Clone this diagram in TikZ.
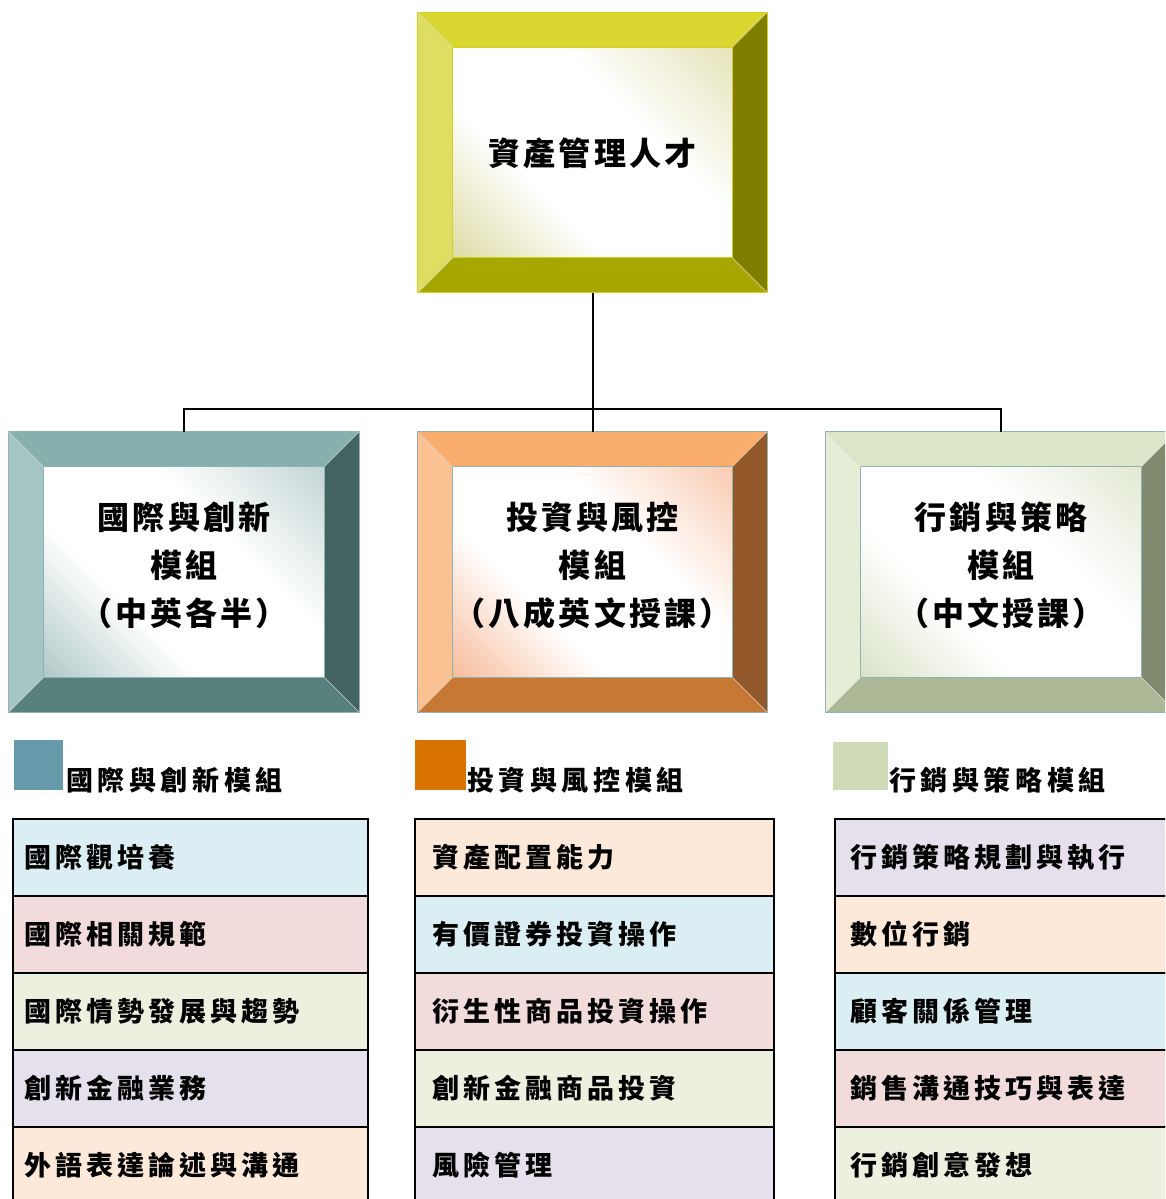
\documentclass[tikz,border=0pt]{standalone}
\usepackage{fontspec}
\setmainfont[LetterSpace=10]{Noto Sans CJK TC}
\newfontfamily\cellfont[LetterSpace=15]{Noto Sans CJK TC}
\newfontfamily\legfont[LetterSpace=17]{Noto Sans CJK TC}
\usetikzlibrary{calc}
\definecolor{yTop}{HTML}{D9D62F}
\definecolor{yLeft}{HTML}{E0DE62}
\definecolor{yRight}{HTML}{7F7E00}
\definecolor{yBot}{HTML}{A8A600}
\definecolor{yTint}{HTML}{CFCD80}
\definecolor{yLine}{HTML}{D2D020}
\definecolor{tTop}{HTML}{86AFAD}
\definecolor{tLeft}{HTML}{A4C5C4}
\definecolor{tRight}{HTML}{426360}
\definecolor{tBot}{HTML}{577F7C}
\definecolor{tTint}{HTML}{8FB1B0}
\definecolor{tLine}{HTML}{8FB3B2}
\definecolor{oTop}{HTML}{F8AD6D}
\definecolor{oLeft}{HTML}{FAC292}
\definecolor{oRight}{HTML}{94592B}
\definecolor{oBot}{HTML}{C77835}
\definecolor{oTint}{HTML}{F4A070}
\definecolor{gTop}{HTML}{DDE6C9}
\definecolor{gLeft}{HTML}{E6EDD7}
\definecolor{gRight}{HTML}{808A6F}
\definecolor{gBot}{HTML}{ADB896}
\definecolor{gTint}{HTML}{C9D6AE}
\definecolor{legA}{HTML}{6699AA}
\definecolor{legB}{HTML}{D97300}
\definecolor{legC}{HTML}{CFDAB8}
\definecolor{cBlue}{HTML}{DBEEF4}
\definecolor{cPink}{HTML}{F2DCDB}
\definecolor{cGreen}{HTML}{EBF1DE}
\definecolor{cLav}{HTML}{E5E0EC}
\definecolor{cPeach}{HTML}{FDE9D9}
\colorlet{shA}{gray}
\colorlet{shB}{gray}
\pgfdeclareverticalshading[shA,shB]{diagglow}{100bp}{color(0bp)=(shA); color(5bp)=(shA); color(37bp)=(white); color(61bp)=(white); color(95bp)=(shB); color(100bp)=(shB)}
\newcommand\bevelbox[9]{% name, center, w, top, left, right, bottom, tint, line
  \node[bevelouter, minimum width=#3] (#1) at (#2) {};
  \fill[#4] (#1.north west) -- (#1.north east) -- ($(#1.north east)+(-35,35)$) -- ($(#1.north west)+(35,35)$) -- cycle;
  \fill[#5] (#1.north west) -- ($(#1.north west)+(35,35)$) -- ($(#1.south west)+(35,-35)$) -- (#1.south west) -- cycle;
  \fill[#6] (#1.north east) -- ($(#1.north east)+(-35,35)$) -- ($(#1.south east)+(-35,-35)$) -- (#1.south east) -- cycle;
  \fill[#7] (#1.south west) -- ($(#1.south west)+(35,-35)$) -- ($(#1.south east)+(-35,-35)$) -- (#1.south east) -- cycle;
  \colorlet{shA}{#8}\colorlet{shB}{#8!75}
  \shade[shading=diagglow, shading angle=-45]
    ($(#1.north west)+(35,35)$) rectangle ($(#1.south east)+(-35,-35)$);
  \draw[line width=0.8pt, #9] ($(#1.north west)+(35,35)$) rectangle ($(#1.south east)+(-35,-35)$);
  \draw[line width=0.8pt, #9] (#1.north west) rectangle (#1.south east);
  \draw[line width=0.5pt, white!70!#6] (#1.north west) -- ($(#1.north west)+(35,35)$)
    (#1.north east) -- ($(#1.north east)+(-35,35)$)
    (#1.south west) -- ($(#1.south west)+(35,-35)$)
    (#1.south east) -- ($(#1.south east)+(-35,-35)$);
}
\tikzset{
  bevelouter/.style={rectangle, inner sep=0pt, minimum height=280pt},
  boxtext/.style={align=center, font=\fontsize{32}{48}\selectfont\bfseries, inner sep=0pt},
  legtext/.style={anchor=west, inner sep=0pt, font=\legfont\fontsize{27}{30}\selectfont\bfseries},
  legsq/.style={rectangle, inner sep=0pt},
  row/.style 2 args={draw=black, line width=1.6pt, text width=#1, inner xsep=#2, inner ysep=0pt,
    minimum height=77pt, align=left, font=\cellfont\fontsize{27}{30}\selectfont\bfseries},
  link/.style={draw=black, line width=2pt}
}
\begin{document}
\begin{tikzpicture}[x=1pt, y=-1pt]
\useasboundingbox (0,0) rectangle (1165,1199);
\clip (0,0) rectangle (1165,1199);
\fill[white] (0,0) rectangle (1165,1199);

\coordinate (j) at (592.5,409);
\bevelbox{top}{592.5,152.5}{349pt}{yTop}{yLeft}{yRight}{yBot}{yTint}{yLine}
\bevelbox{mA}{184,572}{350pt}{tTop}{tLeft}{tRight}{tBot}{tTint}{tLine}
\bevelbox{mB}{592.5,572}{349pt}{oTop}{oLeft}{oRight}{oBot}{oTint}{tLine}
\bevelbox{mC}{1001,572}{350pt}{gTop}{gLeft}{gRight}{gBot}{gTint}{tLine}
\draw[link] (top.south) -- (j);
\draw[link] (mA.north) |- (j) -| (mC.north);
\draw[link] (j) -- (mB.north);

\node[boxtext] (topt) at (592.5,153) {資產管理人才};
\node[boxtext] (mAt) at (184,565) {國際與創新\\模組\\（中英各半）};
\node[boxtext] (mBt) at (592.5,565) {投資與風控\\模組\\（八成英文授課）};
\node[boxtext] (mCt) at (1001,565) {行銷與策略\\模組\\（中文授課）};

% legend
\node[legsq, fill=legA, minimum width=49pt, minimum height=50pt] (sqA) at (38.5,765) {};
\node[legsq, fill=legB, minimum width=51pt, minimum height=50pt] (sqB) at (440.5,765) {};
\node[legsq, fill=legC, minimum width=55pt, minimum height=48pt] (sqC) at (860.5,766) {};
\node[legtext] (legAt) at (66,780) {國際與創新模組};
\node[legtext] (legBt) at (467,780) {投資與風控模組};
\node[legtext] (legCt) at (889,780) {行銷與策略模組};

% left table
\node[row={333pt}{11pt}, fill=cBlue]  (A1) at (190.5,857.5) {國際觀培養};
\node[row={333pt}{11pt}, fill=cPink]  (A2) at (190.5,934.5) {國際相關規範};
\node[row={333pt}{11pt}, fill=cGreen] (A3) at (190.5,1011.5) {國際情勢發展與趨勢};
\node[row={333pt}{11pt}, fill=cLav]   (A4) at (190.5,1088.5) {創新金融業務};
\node[row={333pt}{11pt}, fill=cPeach] (A5) at (190.5,1165.5) {外語表達論述與溝通};
% middle table
\node[row={325pt}{17pt}, fill=cPeach] (B1) at (594.5,857.5) {資產配置能力};
\node[row={325pt}{17pt}, fill=cBlue]  (B2) at (594.5,934.5) {有價證券投資操作};
\node[row={325pt}{17pt}, fill=cPink]  (B3) at (594.5,1011.5) {衍生性商品投資操作};
\node[row={325pt}{17pt}, fill=cGreen] (B4) at (594.5,1088.5) {創新金融商品投資};
\node[row={325pt}{17pt}, fill=cLav]   (B5) at (594.5,1165.5) {風險管理};
% right table
\node[row={310pt}{15pt}, fill=cLav]   (C1) at (1005,857.5) {行銷策略規劃與執行};
\node[row={310pt}{15pt}, fill=cPeach] (C2) at (1005,934.5) {數位行銷};
\node[row={310pt}{15pt}, fill=cBlue]  (C3) at (1005,1011.5) {顧客關係管理};
\node[row={310pt}{15pt}, fill=cPink]  (C4) at (1005,1088.5) {銷售溝通技巧與表達};
\node[row={310pt}{15pt}, fill=cGreen] (C5) at (1005,1165.5) {行銷創意發想};
\end{tikzpicture}
\end{document}
